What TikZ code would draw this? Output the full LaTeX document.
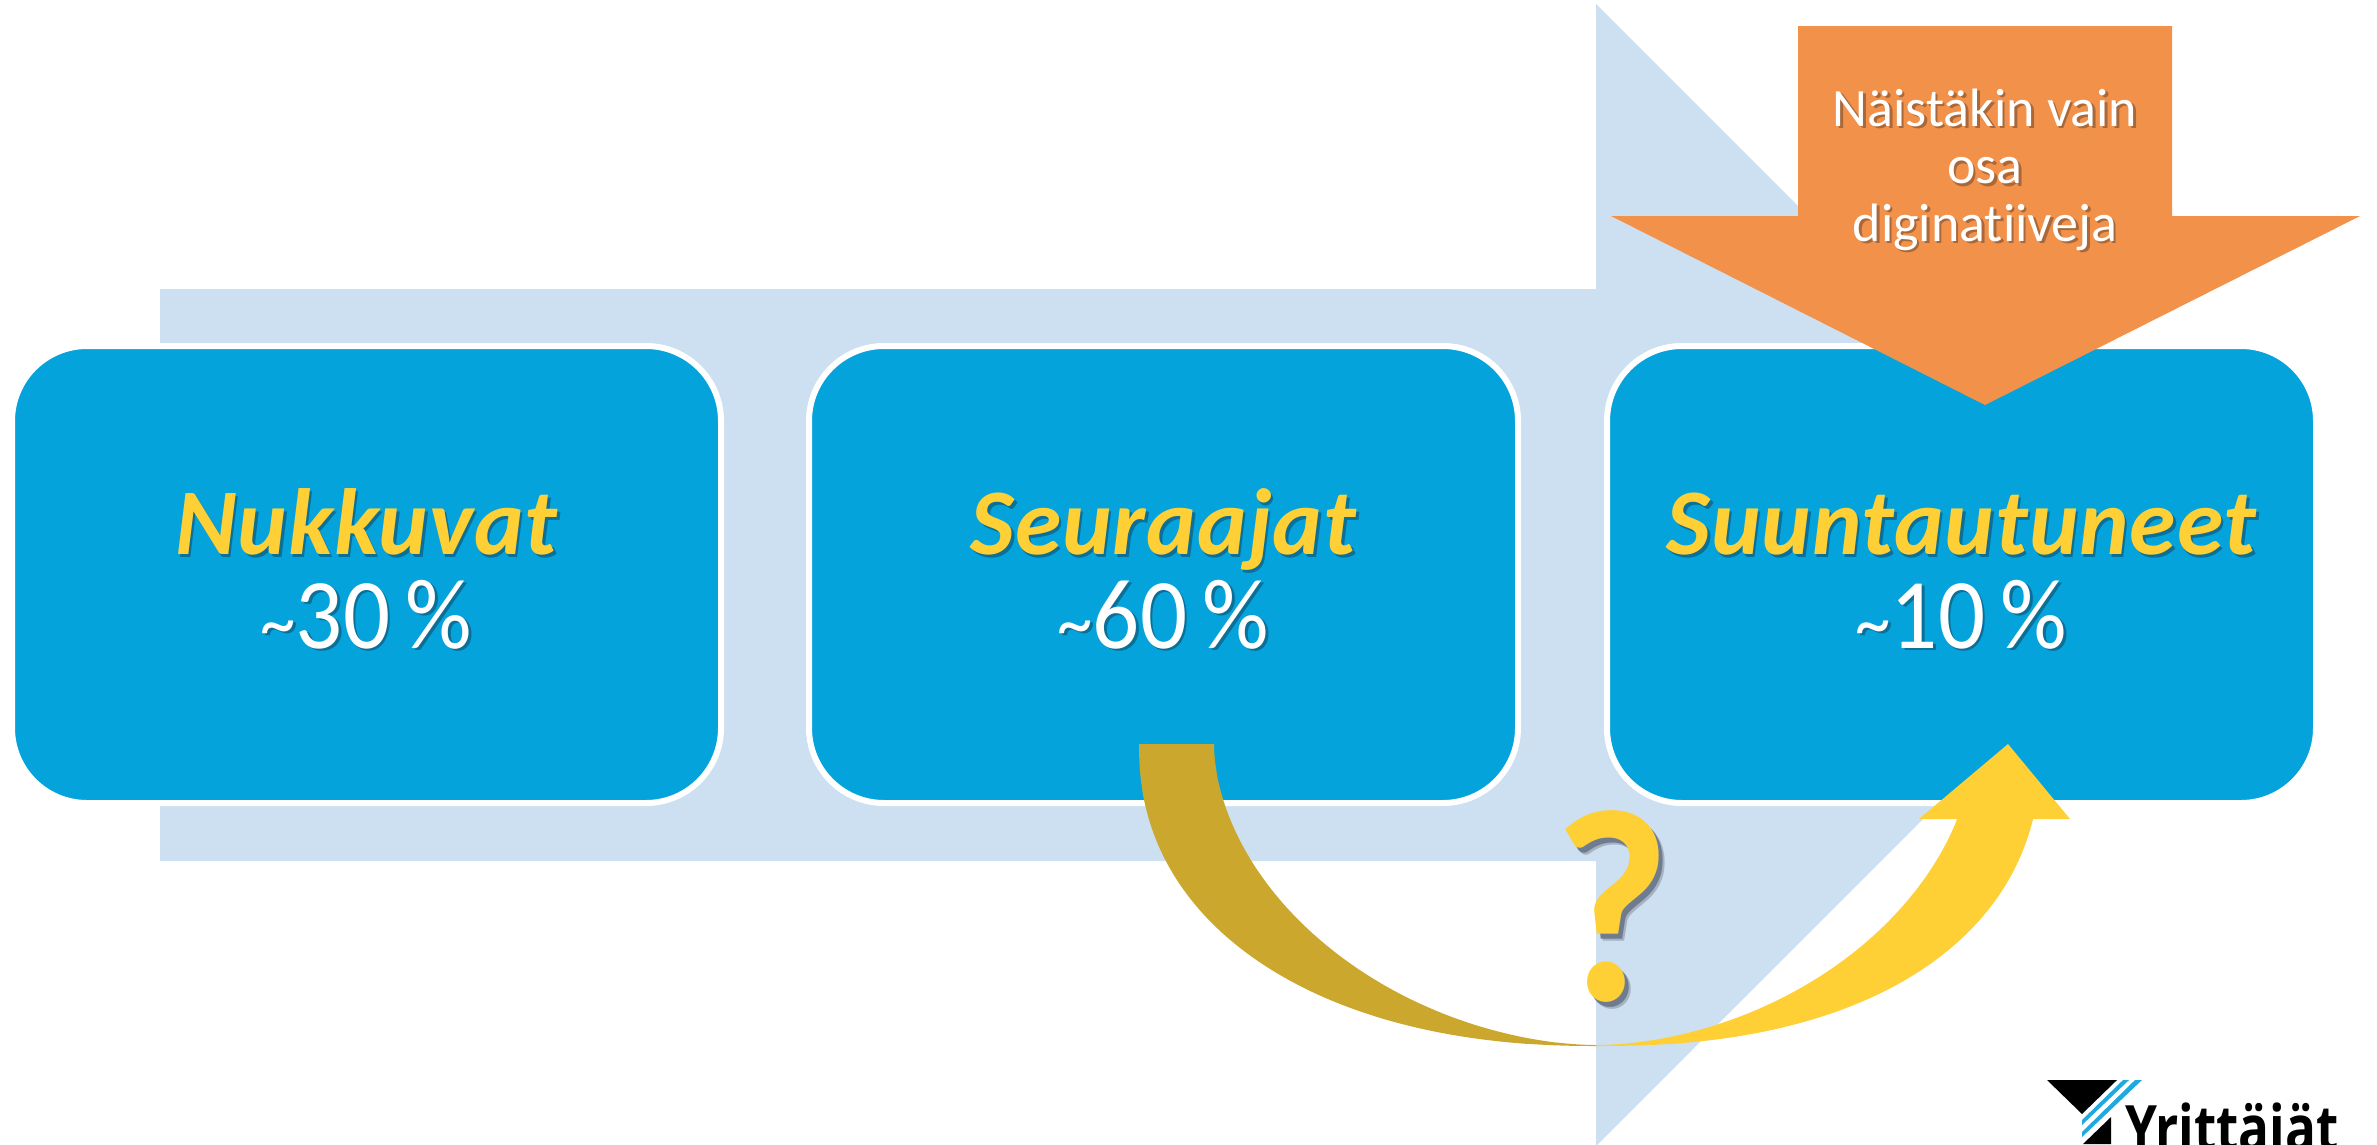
\documentclass[tikz,border=0pt]{standalone}
\usepackage{fontspec}
\setmainfont[Ligatures=NoCommon]{Carlito}
\newfontfamily\logofont{Open Sans}
\definecolor{lightarrow}{HTML}{CCE0F1}
\definecolor{boxblue}{HTML}{04A3DB}
\definecolor{orangearrow}{HTML}{F2914A}
\definecolor{goldarrow}{HTML}{CBA82D}
\definecolor{yellowarrow}{HTML}{FFD036}
\definecolor{txtshadow}{HTML}{0B6F97}
\definecolor{orshadow}{HTML}{A8683A}
\definecolor{qshadow}{HTML}{6F7C90}
\definecolor{qshadowlight}{HTML}{A5B2C2}
\definecolor{logoblue}{HTML}{1FA9E0}
\newcommand{\shtext}[3]{\leavevmode\rlap{\kern2.5pt\raisebox{-2.5pt}{\textcolor{#2}{#3}}}\textcolor{#1}{#3}}
\tikzset{
  x=1pt,y=-1pt,
  boxnode/.style={draw=white,line width=6pt,fill=boxblue,rounded corners=75pt,
    minimum width=709pt,minimum height=457pt,outer sep=0pt,inner sep=0pt,align=center,text=white}
}
\newcommand{\boxtxt}[2]{\fontsize{94}{91}\selectfont\rule[-21pt]{0pt}{93pt}\shtext{yellowarrow}{txtshadow}{\bfseries\itshape\addfontfeature{LetterSpace=1.0}#1}\\[3pt]\rule[-18pt]{0pt}{84pt}\shtext{white}{txtshadow}{\fontsize{100}{91}\selectfont\scalebox{.93}[1]{{\fontsize{76}{91}\selectfont\char"7E\relax}#2\,\%}}}
\begin{document}
\begin{tikzpicture}
\useasboundingbox (0,0) rectangle (2377,1144);
\clip (0,0) rectangle (2377,1144);
\fill[lightarrow] (160,289) -- (1596,289) -- (1596,4) -- (2167,575) -- (1596,1146) -- (1596,861) -- (160,861) -- cycle;
\node[boxnode] (nukkuvat) at (366.5,574.5) {\boxtxt{Nukkuvat}{30}};
\node[boxnode] (seuraajat) at (1163.5,574.5) {\boxtxt{Seuraajat}{60}};
\node[boxnode] (suuntautuneet) at (1961.5,574.5) {\boxtxt{Suuntautuneet}{10}};
% orange arrow
\fill[orangearrow] (1798,26) -- (2172,26) -- (2172,216) -- (2360,216) -- (1985,405) -- (1611,216) -- (1798,216) -- cycle;
\node[align=center,inner sep=0pt,font=\fontsize{54}{57.5}\selectfont] (digi) at (1985,171) {\shtext{white}{orshadow}{Näistäkin vain}\\\shtext{white}{orshadow}{osa}\\\shtext{white}{orshadow}{diginatiiveja}};
% gold arrow
\fill[goldarrow] (1139,744)
  -- plot[domain=.5:89.5,samples=90] ({1597-458*pow(cos(\x),.91)},{744+302*pow(sin(\x),.91)})
  -- (1597,1046) -- (1597,1045)
  -- plot[domain=89.5:.5,samples=90] ({1597-383*pow(cos(\x),1.08)},{744+301*pow(sin(\x),1.08)})
  -- (1214,744) -- cycle;
% yellow arrow
\fill[yellowarrow] (1596,1046)
  -- plot[domain=89.5:11.6,samples=80] ({1596+445*pow(cos(\x),.87)},{744+302*pow(sin(\x),.87)})
  -- (2033,819) -- (2070,819) -- (2008,744) -- (1919,819) -- (1957,819)
  -- plot[domain=16:89.5,samples=80] ({1596+377*pow(cos(\x),1.08)},{744+301*pow(sin(\x),1.08)})
  -- (1596,1045) -- cycle;
\node[inner sep=0pt,xscale=.92,font=\fontsize{275}{275}\bfseries\selectfont] (question) at (1612,910) {\rlap{\kern7pt\raisebox{-7pt}{\textcolor{qshadowlight}{?}}}\rlap{\kern4.5pt\raisebox{-4.5pt}{\textcolor{qshadow}{?}}}\textcolor{yellowarrow}{?}};
% logo
\fill[black] (2047,1080) -- (2117,1080) -- (2082,1114) -- cycle;
\fill[logoblue] (2123,1080) -- (2129,1080) -- (2082,1125) -- (2082,1120) -- cycle;
\fill[logoblue] (2135,1080) -- (2142,1080) -- (2082,1137) -- (2082,1132) -- cycle;
\fill[black] (2083,1144) -- (2111,1117) -- (2111,1144) -- cycle;
\node[anchor=base west,inner sep=0pt,xscale=.8,font=\logofont\bfseries\fontsize{64}{64}\selectfont] (logo) at (2125,1151) {Yrittäjät};
\end{tikzpicture}
\end{document}
